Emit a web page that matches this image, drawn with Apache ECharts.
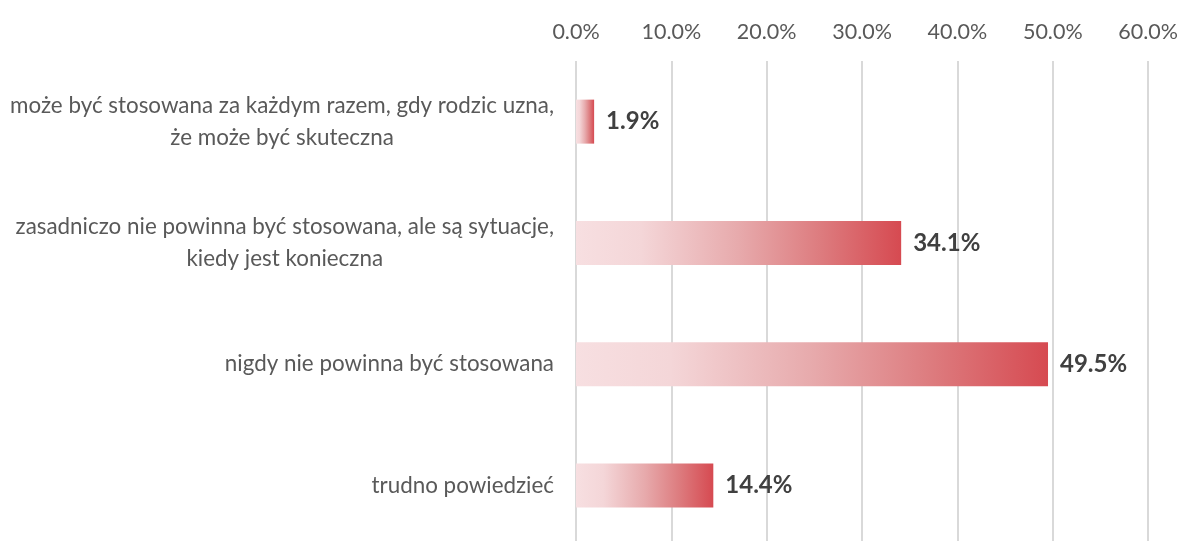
<!DOCTYPE html>
<html>
<head>
<meta charset="utf-8">
<script src="https://cdn.jsdelivr.net/npm/echarts@6/dist/echarts.min.js"></script>
<style>
  html, body { margin: 0; padding: 0; background: #fff; overflow: hidden; }
  /* wykres sięga kilka pikseli poniżej okna, jak w oryginale */
  #chart { width: 1181px; height: 546px; }
</style>
</head>
<body>
<div id="chart"></div>
<script>
// odpowiedzi (od góry do dołu)
var categories = [
    'może być stosowana za każdym razem, gdy rodzic uzna,\nże może być skuteczna',
    'zasadniczo nie powinna być stosowana, ale są sytuacje,\nkiedy jest konieczna',
    'nigdy nie powinna być stosowana',
    'trudno powiedzieć'
];
var values = [1.9, 34.1, 49.5, 14.4];
var axisMax = 60;
var axisStep = 10;

var myChart = echarts.init(document.getElementById('chart'));

var barColor = new echarts.graphic.LinearGradient(0, 0, 1, 0, [
    { offset: 0, color: '#f7dfe1' },
    { offset: 0.2, color: '#f4d6d8' },
    { offset: 0.5, color: '#e7aaac' },
    { offset: 0.75, color: '#dd7c7f' },
    { offset: 1, color: '#d64a51' }
]);

var option = {
    animation: false,
    grid: { left: 576, right: 32, top: 61, bottom: 0 },
    xAxis: {
        type: 'value',
        position: 'top',
        min: 0,
        max: axisMax,
        interval: axisStep,
        axisLine: { show: false },
        axisTick: { show: false },
        splitLine: { lineStyle: { color: '#d9d9d9', width: 2 } },
        axisLabel: {
            color: '#595959',
            fontFamily: 'Lato',
            fontSize: 21.5,
            margin: 18,
            formatter: function (v) { return v.toFixed(1) + '%'; }
        }
    },
    yAxis: {
        type: 'category',
        inverse: true,
        data: categories,
        axisLine: { show: false },
        axisTick: { show: false },
        axisLabel: {
            margin: 22,
            formatter: function (v) {
                return v.split('\n').map(function (s) { return '{c|' + s + '}'; }).join('\n');
            },
            rich: {
                c: {
                    align: 'center',
                    color: '#595959',
                    fontFamily: 'Lato',
                    fontSize: 22.4,
                    lineHeight: 32
                }
            }
        }
    },
    series: [{
        type: 'bar',
        data: values,
        barWidth: 44,
        itemStyle: { color: barColor },
        label: {
            show: true,
            position: 'right',
            distance: 12,
            color: '#404040',
            fontFamily: 'Lato',
            fontWeight: 'bold',
            fontSize: 24,
            formatter: function (p) { return p.value.toFixed(1) + '%'; }
        }
    }]
};

myChart.setOption(option);
</script>
</body>
</html>
